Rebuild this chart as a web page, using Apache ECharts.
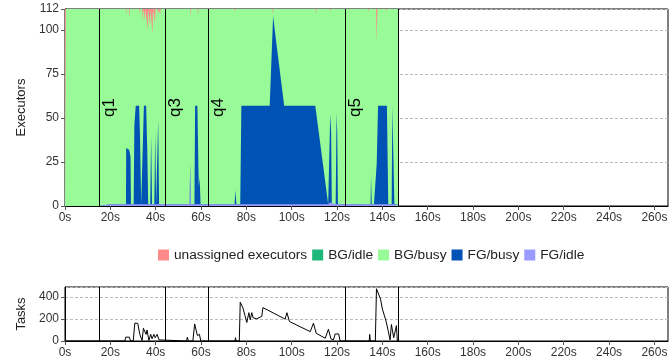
<!DOCTYPE html>
<html>
<head>
<meta charset="utf-8">
<script src="https://cdn.jsdelivr.net/npm/echarts@6/dist/echarts.min.js"></script>
<style>
  html, body { margin: 0; padding: 0; background: #fff; }
  #chart { width: 671px; height: 364px; }
</style>
</head>
<body>
<div id="chart"></div>
<script>
// executor timeline, seconds
const TOTAL_EXECUTORS = 112;
const execT = [0, 15, 20, 26.9, 27.0, 28.3, 28.9, 29.1, 30.3, 30.6,
  31.2, 32.7, 33.1, 33.6, 34.0, 34.8, 35.8, 36.3, 36.7, 37.6,
  38.0, 38.4, 39.4, 39.8, 40.2, 40.8, 41.1, 41.5, 55.0, 55.2,
  55.5, 57.1, 57.4, 58.4, 59.0, 59.4, 59.8, 74.8, 75.2, 75.6,
  77.3, 77.8, 90.3, 91.8, 93.0, 96.7, 110.4, 116.1, 116.7, 117.0,
  117.4, 117.7, 119.4, 119.8, 120.1, 120.4, 134.8, 135.0, 135.3, 136.3,
  137.5, 138.1, 142.0, 142.6, 144.1, 144.4, 144.9, 145.3, 147.0];
const fgIdle = [0, 0, 1, 1, 1, 1, 1, 1, 1, 1,
  1, 1, 1, 1, 1, 1, 1, 1, 1, 1,
  2, 1, 1, 2, 1, 1, 1, 1, 1, 24,
  1, 1, 1, 1, 1, 1, 1, 1, 1, 1,
  1, 1, 1, 1, 1, 1, 1, 1, 1, 2,
  2, 1, 1, 1, 1, 1, 1, 1, 1, 1,
  1, 1, 1, 1, 1, 1, 1, 1, 1];
const fgBusy = [0, 0, 0, 0, 32, 31, 27, 0, 0, 45,
  56, 56, 38, 0, 0, 56, 56, 30, 0, 0,
  38, 0, 0, 40, 0, 0, 48, 0, 0, 0,
  0, 0, 56, 56, 10, 15, 0, 0, 8, 0,
  0, 56, 56, 107, 94, 56, 56, 0, 0, 50,
  40, 0, 0, 52, 40, 0, 0, 16, 0, 0,
  23, 56, 56, 0, 0, 56, 56, 0, 0];

// unassigned executors: thin dips from the top of the pool
const unassignedT = [0, 0.4,
  26.8, 27.0, 27.2, 28.3, 28.5, 28.7, 32.8, 33.0, 33.2, 34.1, 34.3, 34.5,
  35.1, 35.3, 35.5, 36.3, 36.5, 36.7, 37.3, 37.5, 37.7, 38.4, 38.6, 38.8,
  39.5, 39.7, 39.9, 40.8, 41.0, 41.2, 41.8, 42.0, 42.2, 55.3, 55.5, 55.7,
  58.5, 58.7, 58.9, 74.8, 75.0, 75.2, 91.5, 91.7, 91.9, 110.6, 110.8, 111.0,
  116.8, 117.0, 117.2, 133.6, 133.8, 134.0, 137.2, 137.5, 137.8, 141.5, 141.7, 141.9,
  147.0];
const unassigned = [112, 0,
  0, 3, 0, 0, 5, 0, 0, 3, 0, 0, 8, 0,
  0, 6, 0, 0, 12, 0, 0, 10, 0, 0, 14, 0,
  0, 8, 0, 0, 4, 0, 0, 3, 0, 0, 4, 0,
  0, 3, 0, 0, 2, 0, 0, 3, 0, 0, 3, 0,
  0, 2, 0, 0, 2, 0, 0, 19, 0, 0, 2, 0,
  0];
const bgIdle = [];  // never shows up in this run

// running tasks
const taskT = [0, 26.4, 26.8, 28.4, 28.9, 30.1, 30.8, 32.1, 33.0, 34.0,
  34.6, 35.1, 35.8, 36.2, 37.0, 37.8, 38.4, 39.2, 39.8, 40.6,
  41.5, 42.0, 53.6, 54.0, 54.4, 56.4, 57.2, 57.8, 58.4, 59.3,
  59.9, 75.0, 75.2, 75.5, 76.9, 77.3, 78.5, 79.4, 80.2, 81.1,
  81.7, 82.4, 83.0, 84.6, 86.8, 87.3, 97.1, 97.9, 99.0, 108.2,
  109.6, 110.8, 114.8, 116.2, 117.3, 118.4, 119.2, 120.7, 121.4, 134.2,
  134.4, 134.7, 136.9, 137.4, 138.2, 139.2, 140.0, 140.4, 141.5, 142.5,
  143.4, 144.0, 144.5, 145.0, 145.7, 146.2, 146.6, 147.0];
const tasks = [0, 0, 35, 35, 0, 0, 162, 160, 60, 5,
  115, 110, 60, 100, 5, 60, 20, 60, 30, 60,
  10, 0, 0, 35, 0, 0, 155, 140, 50, 60,
  0, 0, 30, 0, 0, 352, 300, 230, 168, 257,
  193, 257, 210, 202, 223, 303, 199, 257, 177, 85,
  162, 70, 25, 107, 20, 10, 64, 64, 0, 0,
  60, 0, 0, 474, 470, 380, 290, 300, 190, 100,
  10, 150, 140, 30, 40, 140, 0, 0];

// query boundaries
const queryBounds = [15, 44.2, 63.1, 123.6, 147];
const queryLabels = ['q1', 'q3', 'q4', 'q5', ''];

const legendNames = ['unassigned executors', 'BG/idle', 'BG/busy', 'FG/busy', 'FG/idle'];

// stack order bottom -> top: FG/idle, FG/busy, BG/busy, unassigned.
// ECharts stacks on x for value/value axes, so build the band tops here
// and paint them back to front, each filled down to 0.
const fgIdleTop = execT.map((t, i) => [t, fgIdle[i]]);
const fgBusyTop = execT.map((t, i) => [t, fgIdle[i] + fgBusy[i]]);
const bgBusyTop = unassignedT.map((t, i) => [t, TOTAL_EXECUTORS - unassigned[i]]);  // BG/busy is the rest of the pool
const unassignedTop = unassignedT.map(t => [t, TOTAL_EXECUTORS]);

const FONT = 'Liberation Sans, Arial, sans-serif';

function xAxisFor(gi) {
  return {
    type: 'value', gridIndex: gi, min: 0, max: 266, interval: 20,
    axisLine: { lineStyle: { color: '#000', width: 1 } },
    axisTick: { show: true, length: 4, lineStyle: { color: '#555' } },
    axisLabel: { formatter: '{value}s', showMaxLabel: false, color: '#333', fontSize: 12, fontFamily: FONT, margin: 6 },
    splitLine: { show: false }
  };
}

function areaSeries(name, color, data, extra) {
  return Object.assign({
    name: name, type: 'line', xAxisIndex: 0, yAxisIndex: 0,
    data: data, showSymbol: false, symbol: 'none', animation: false,
    lineStyle: { width: 0 }, itemStyle: { color: color },
    areaStyle: { color: color, opacity: 1, origin: 'start' }
  }, extra || {});
}

const chart = echarts.init(document.getElementById('chart'), null, { renderer: 'canvas' });
const option = {
  animation: false,
  textStyle: { fontFamily: FONT },
  grid: [
    { left: 65, right: 3, top: 9, height: 197, show: true, borderColor: '#000', borderWidth: 1, backgroundColor: 'transparent' },
    { left: 65, right: 3, top: 287, height: 54, show: true, borderColor: '#000', borderWidth: 1, backgroundColor: 'transparent' }
  ],
  legend: {
    data: legendNames, left: 153, top: 243, icon: 'rect',
    itemWidth: 11, itemHeight: 11, itemGap: 5,
    textStyle: { fontSize: 13.7, color: '#222', fontFamily: FONT }
  },
  xAxis: [xAxisFor(0), xAxisFor(1)],
  yAxis: [
    {
      type: 'value', gridIndex: 0, min: 0, max: TOTAL_EXECUTORS, interval: 25,
      name: 'Executors', nameLocation: 'middle', nameGap: 36, nameRotate: 90,
      nameTextStyle: { fontSize: 13, color: '#222', fontFamily: FONT },
      axisLine: { show: true, lineStyle: { color: '#000' } },
      axisTick: { show: true, length: 4, lineStyle: { color: '#555' } },
      axisLabel: { color: '#333', fontSize: 12, fontFamily: FONT, margin: 6 },
      splitLine: { show: true, lineStyle: { color: '#bbb', type: [3, 2], width: 1 } }
    },
    {
      type: 'value', gridIndex: 1, min: 0, max: 490, interval: 200,
      name: 'Tasks', nameLocation: 'middle', nameGap: 36, nameRotate: 90,
      nameTextStyle: { fontSize: 13, color: '#222', fontFamily: FONT },
      axisLine: { show: true, lineStyle: { color: '#000' } },
      axisTick: { show: true, length: 4, lineStyle: { color: '#555' } },
      axisLabel: { color: '#333', fontSize: 12, fontFamily: FONT, margin: 6, showMaxLabel: false },
      splitLine: { show: true, lineStyle: { color: '#bbb', type: [3, 2], width: 1 } }
    }
  ],
  series: [
    areaSeries('unassigned executors', '#ff8a8a', unassignedTop),
    areaSeries('BG/idle', '#1db87a', bgIdle),
    areaSeries('BG/busy', '#98fb98', bgBusyTop),
    areaSeries('FG/busy', '#0052b4', fgBusyTop),
    areaSeries('FG/idle', '#9b9bff', fgIdleTop, {
      markLine: {
        silent: true, symbol: ['none', 'none'], animation: false,
        lineStyle: { color: '#000', width: 1, type: 'solid' },
        label: { show: true, formatter: '{b}', position: 'insideMiddleBottom', distance: 2,
                 fontSize: 17, color: '#000', fontFamily: FONT },
        data: queryBounds.map((t, i) => ({ xAxis: t, name: queryLabels[i] }))
      }
    }),
    {
      name: 'Tasks', type: 'line', xAxisIndex: 1, yAxisIndex: 1,
      data: taskT.map((t, i) => [t, tasks[i]]), showSymbol: false, symbol: 'none',
      lineStyle: { color: '#000', width: 1 }, itemStyle: { color: '#000' },
      markLine: {
        silent: true, symbol: ['none', 'none'], animation: false,
        lineStyle: { color: '#000', width: 1, type: 'solid' },
        label: { show: false },
        data: queryBounds.map(t => ({ xAxis: t }))
      }
    }
  ]
};
chart.setOption(option);
</script>
</body>
</html>
